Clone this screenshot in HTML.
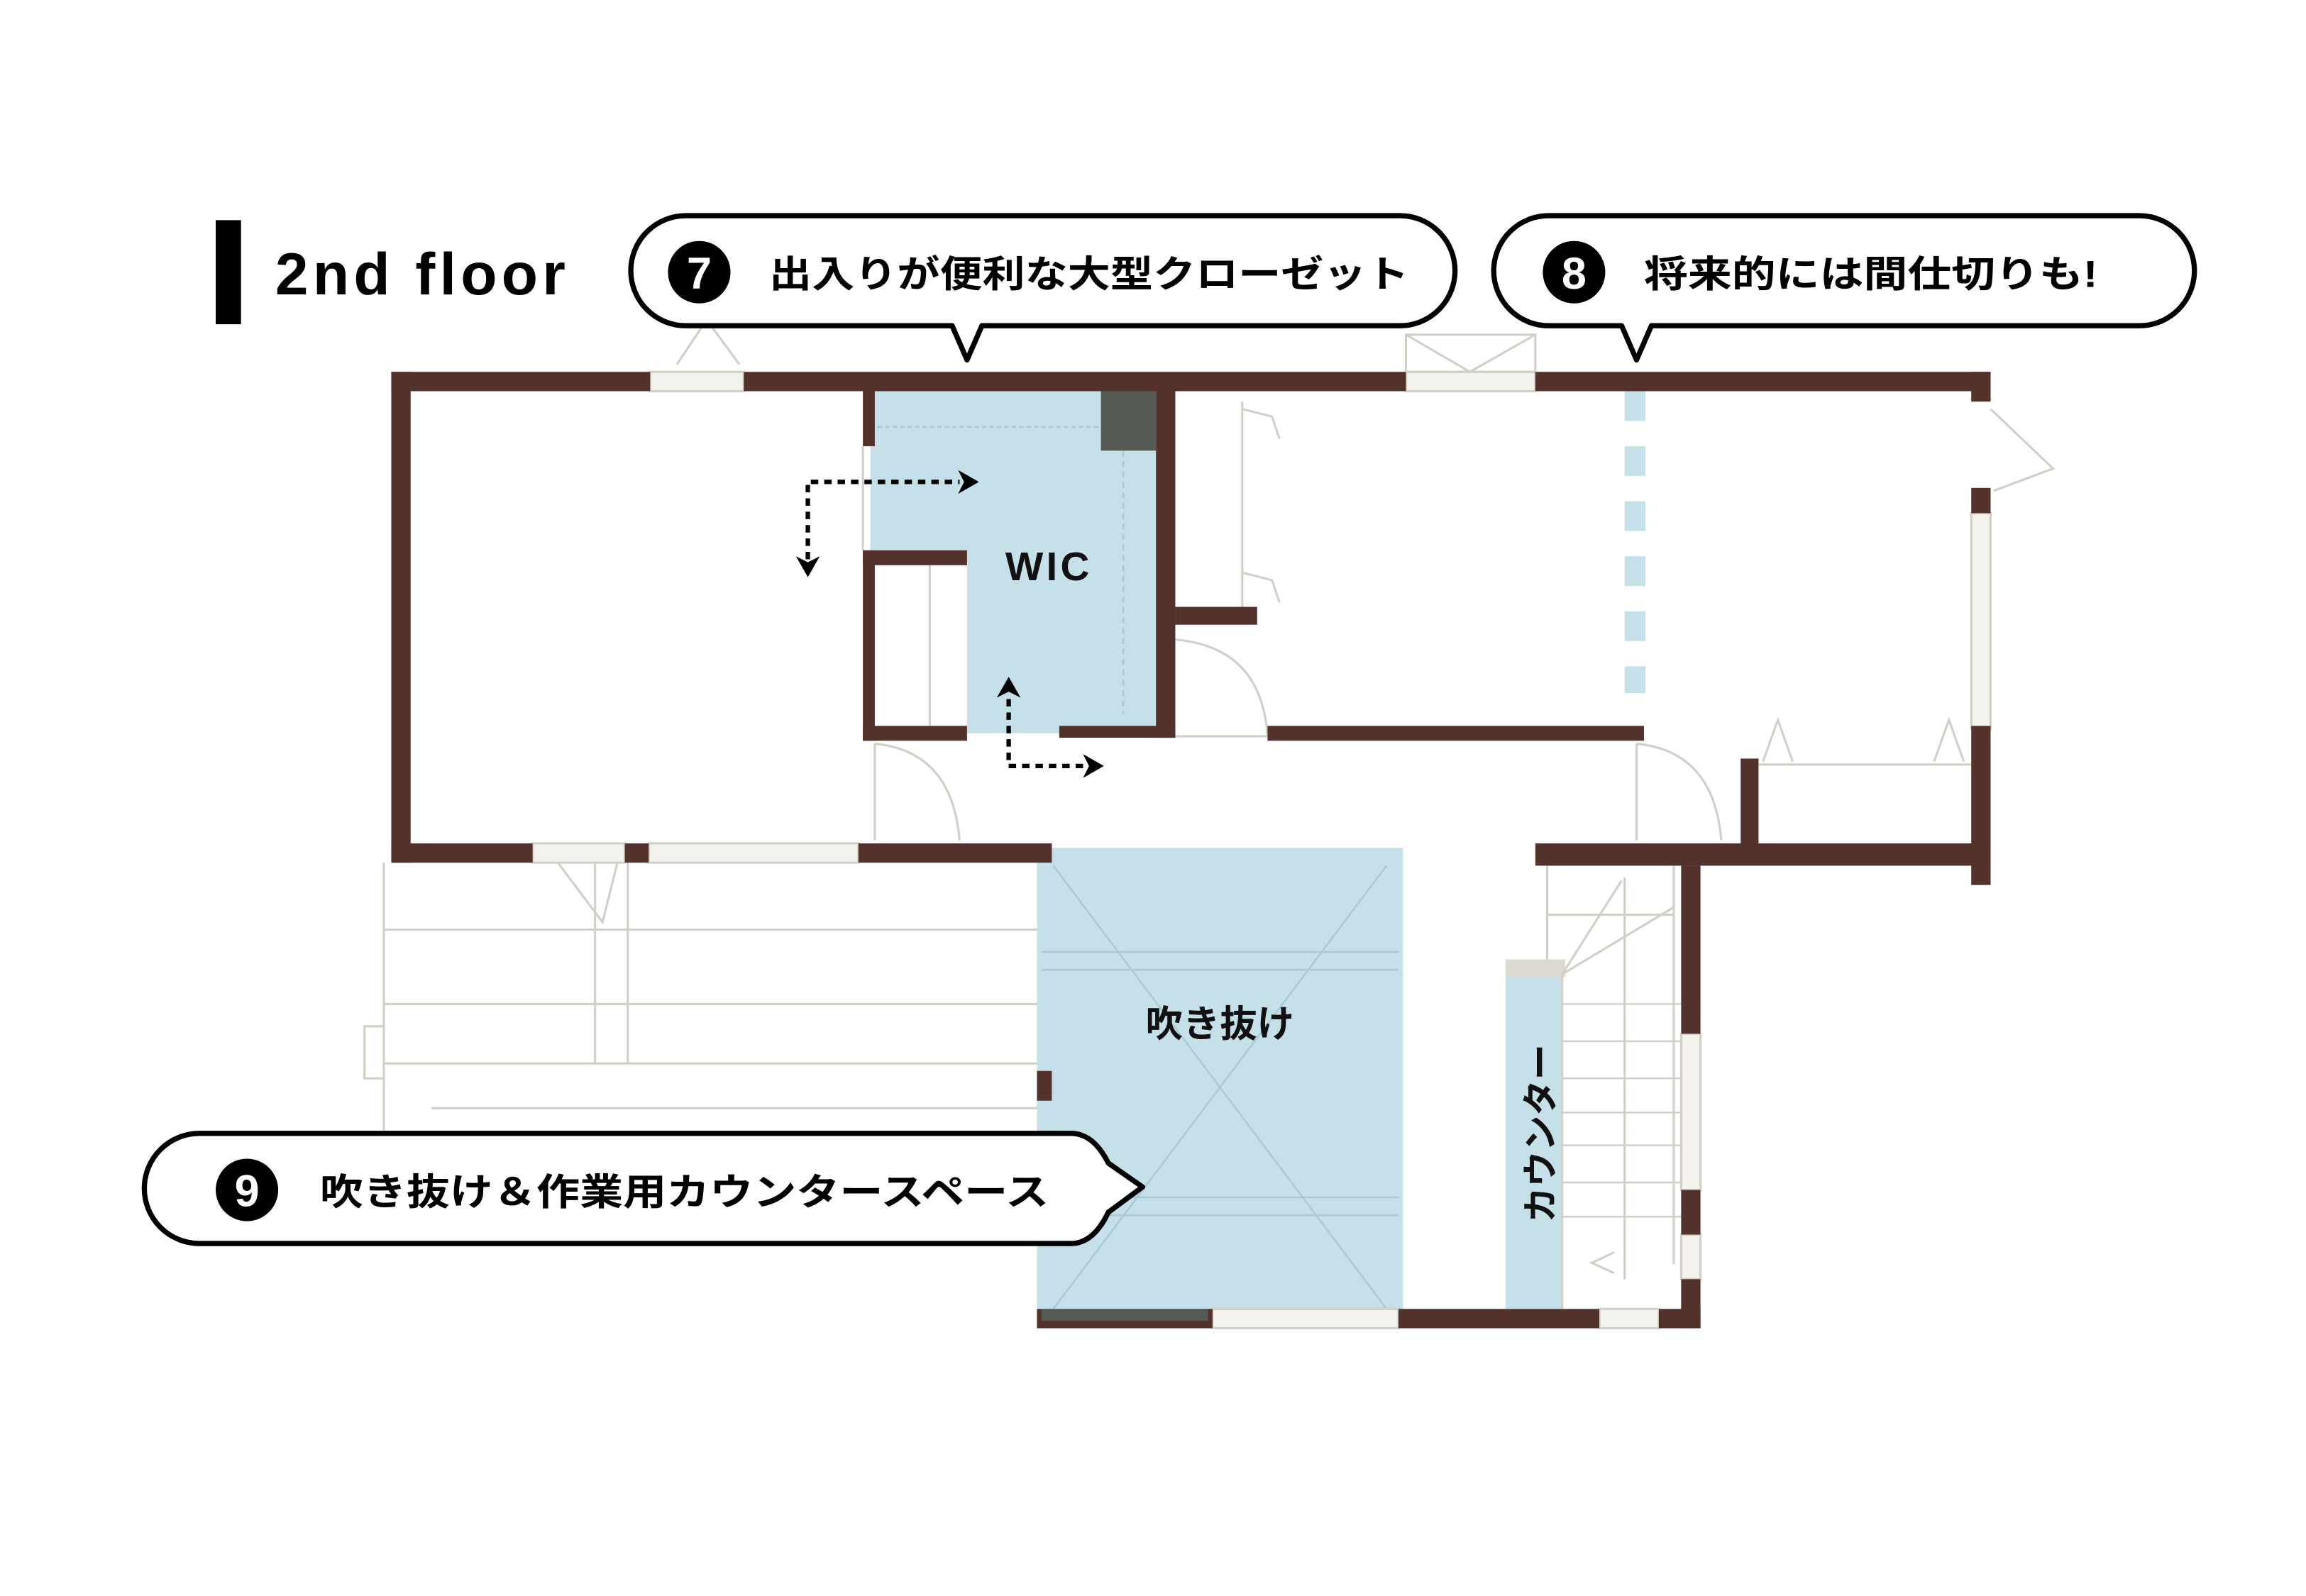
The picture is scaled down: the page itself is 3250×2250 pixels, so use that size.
<!DOCTYPE html>
<html><head><meta charset="utf-8"><style>
html,body{margin:0;padding:0;background:#fff;}
svg{display:block;}
text{font-family:"Liberation Sans","Noto Sans CJK JP",sans-serif;font-weight:bold;}
</style></head><body>
<svg width="3250" height="2250" viewBox="0 0 1550 1073" preserveAspectRatio="none" xmlns="http://www.w3.org/2000/svg">
<rect width="1550" height="1073" fill="#fff"/>
<!-- title -->
<rect x="145" y="148" width="17" height="70" fill="#000"/>
<text x="185" y="198" font-size="40" letter-spacing="3" fill="#000">2nd floor</text>

<!-- blue areas -->
<path d="M585 263 H777 V493 H650 V375 H585 Z" fill="#c5e0e9"/>
<rect x="697" y="570" width="246" height="320" fill="#c5e0e9"/>
<rect x="1012" y="655" width="38" height="225" fill="#c5e0e9"/>
<rect x="1012" y="645" width="40" height="12" fill="#dcdad0"/>
<g stroke="#a9c9d3" stroke-width="1.2" fill="none">
<line x1="708" y1="582" x2="932" y2="880"/><line x1="932" y1="582" x2="708" y2="880"/>
<line x1="700" y1="640" x2="940" y2="640"/><line x1="700" y1="652" x2="940" y2="652"/>
<line x1="700" y1="805" x2="940" y2="805"/><line x1="700" y1="817" x2="940" y2="817"/>
<line x1="590" y1="287" x2="740" y2="287" stroke-dasharray="3 2"/>
<line x1="755" y1="303" x2="755" y2="480" stroke-dasharray="4 3"/>
</g>
<rect x="740" y="263" width="37" height="40" fill="#555a55"/>
<!-- dashed blue line -->
<g fill="#c5e0e9">
<rect x="1092" y="263" width="14" height="20"/><rect x="1092" y="300" width="14" height="20"/>
<rect x="1092" y="337" width="14" height="20"/><rect x="1092" y="374" width="14" height="20"/>
<rect x="1092" y="411" width="14" height="20"/><rect x="1092" y="448" width="14" height="18"/>
</g>
<!-- light fixtures / windows / stairs -->
<g stroke="#d2d0c6" stroke-width="1.5" fill="none">
<rect x="437" y="250" width="63" height="13" fill="#f3f2ec"/>
<rect x="945" y="250" width="87" height="13" fill="#f3f2ec"/>
<rect x="945" y="225" width="87" height="25"/>
<line x1="945" y1="225" x2="988" y2="250"/><line x1="1032" y1="225" x2="988" y2="250"/>
<line x1="455" y1="245" x2="475" y2="215"/><line x1="475" y1="215" x2="497" y2="245"/>
<rect x="1325" y="345" width="13" height="145" fill="#f3f2ec"/>
<path d="M1338 275 L1380 315 L1340 330"/>
<line x1="835" y1="270" x2="835" y2="408"/>
<path d="M835 275 l20 5 l5 15 M835 385 l20 5 l5 15"/>
<path d="M790 430 Q848 435 852 495"/><line x1="790" y1="495" x2="852" y2="495"/>
<path d="M588 500 Q640 505 645 565"/><line x1="588" y1="500" x2="588" y2="565"/>
<path d="M1100 500 Q1152 505 1157 565"/><line x1="1100" y1="500" x2="1100" y2="565"/>
<line x1="1182" y1="514" x2="1325" y2="514"/>
<path d="M1185 512 l10 -28 l10 28 M1300 512 l10 -28 l10 28"/>
<rect x="358" y="567" width="62" height="13" fill="#f3f2ec"/>
<rect x="436" y="567" width="141" height="13" fill="#f3f2ec"/>
<path d="M375 580 L405 620 L415 580"/>
<line x1="258" y1="580" x2="258" y2="760"/>
<line x1="400" y1="580" x2="400" y2="715"/><line x1="422" y1="580" x2="422" y2="715"/>
<line x1="258" y1="625" x2="697" y2="625"/><line x1="258" y1="675" x2="697" y2="675"/>
<line x1="258" y1="715" x2="697" y2="715"/><line x1="290" y1="745" x2="697" y2="745"/>
<path d="M258 690 H245 V725 H258"/>
<line x1="1050" y1="655" x2="1050" y2="880"/>
<line x1="1092" y1="590" x2="1092" y2="860"/>
<line x1="1125" y1="582" x2="1125" y2="850"/>
<line x1="1040" y1="582" x2="1040" y2="645"/>
<line x1="1040" y1="615" x2="1125" y2="615"/>
<g stroke-width="1.2">
<line x1="1050" y1="675" x2="1130" y2="675"/><line x1="1050" y1="700" x2="1130" y2="700"/>
<line x1="1050" y1="725" x2="1130" y2="725"/><line x1="1050" y1="748" x2="1130" y2="748"/>
<line x1="1050" y1="770" x2="1130" y2="770"/><line x1="1050" y1="795" x2="1130" y2="795"/>
<line x1="1050" y1="818" x2="1130" y2="818"/>
</g>
<path d="M1050 655 L1125 610 M1050 655 L1090 592"/>
<path d="M1085 842 l-15 7 l15 7"/>
<rect x="1130" y="695" width="13" height="105" fill="#f3f2ec"/>
<rect x="1130" y="830" width="13" height="30" fill="#f3f2ec"/>
<rect x="815" y="880" width="125" height="13" fill="#f3f2ec"/>
<rect x="1075" y="880" width="40" height="13" fill="#f3f2ec"/>
<line x1="580" y1="300" x2="580" y2="370"/>
<line x1="625" y1="380" x2="625" y2="488"/>
</g>
<!-- walls -->
<g fill="#52322a">
<rect x="263" y="250" width="174" height="13"/>
<rect x="500" y="250" width="445" height="13"/>
<rect x="1032" y="250" width="306" height="13"/>
<rect x="263" y="250" width="13" height="330"/>
<rect x="1325" y="250" width="13" height="20"/>
<rect x="1325" y="328" width="13" height="17"/>
<rect x="1325" y="488" width="13" height="107"/>
<rect x="263" y="567" width="95" height="13"/>
<rect x="420" y="567" width="16" height="13"/>
<rect x="577" y="567" width="130" height="13"/>
<rect x="580" y="263" width="8" height="37"/>
<rect x="580" y="370" width="70" height="10"/>
<rect x="580" y="370" width="8" height="128"/>
<rect x="580" y="488" width="70" height="10"/>
<rect x="712" y="488" width="78" height="8"/>
<rect x="777" y="263" width="13" height="233"/>
<rect x="790" y="408" width="55" height="12"/>
<rect x="852" y="488" width="253" height="10"/>
<rect x="1170" y="510" width="12" height="60"/>
<rect x="1032" y="567" width="306" height="15"/>
<rect x="1130" y="582" width="13" height="113"/>
<rect x="1130" y="800" width="13" height="30"/>
<rect x="1130" y="860" width="13" height="33"/>
<rect x="697" y="720" width="10" height="20"/>
<rect x="697" y="880" width="118" height="13"/>
<rect x="940" y="880" width="135" height="13"/>
<rect x="1115" y="880" width="28" height="13"/>
</g>
<rect x="700" y="880" width="112" height="8" fill="#555a55"/>

<!-- dotted arrows -->
<g stroke="#000" stroke-width="3" fill="none" stroke-dasharray="5 4">
<path d="M543 385 V324 H645"/>
<path d="M678 470 V515 H728"/>
</g>
<g fill="#000">
<path d="M658 324 l-14 -8 l4 8 l-4 8 Z"/>
<path d="M543 388 l-8 -14 l8 4 l8 -4 Z"/>
<path d="M678 455 l-8 14 l8 -4 l8 4 Z"/>
<path d="M742 515 l-14 -8 l4 8 l-4 8 Z"/>
</g>

<!-- room labels -->
<text x="705" y="390" font-size="27" text-anchor="middle" letter-spacing="2" fill="#111">WIC</text>
<text x="820" y="697" font-size="25" text-anchor="middle" fill="#111">吹き抜け</text>
<text transform="translate(1044,762) rotate(-90)" font-size="24" text-anchor="middle" fill="#111">カウンター</text>

<!-- bubbles -->
<g fill="#fff" stroke="#000" stroke-width="3.5" stroke-linejoin="round">
<path d="M461 145 H941 A37 37 0 0 1 978 182 A37 37 0 0 1 941 219 H660 L650 242 L640 219 H461 A37 37 0 0 1 424 182 A37 37 0 0 1 461 145 Z"/>
<path d="M1041 145 H1438 A37 37 0 0 1 1475 182 A37 37 0 0 1 1438 219 H1110 L1100 242 L1090 219 H1041 A37 37 0 0 1 1004 182 A37 37 0 0 1 1041 145 Z"/>
<path d="M134 762 H720 Q735 762 745 782 L768 798 L745 815 Q735 836 720 836 H134 A37 37 0 0 1 97 799 A37 37 0 0 1 134 762 Z"/>
</g>
<circle cx="470" cy="183" r="21" fill="#000"/>
<circle cx="1058" cy="183" r="21" fill="#000"/>
<circle cx="166" cy="800" r="21" fill="#000"/>
<text x="470" y="194" font-size="30" text-anchor="middle" fill="#fff">7</text>
<text x="1058" y="194" font-size="30" text-anchor="middle" fill="#fff">8</text>
<text x="166" y="811" font-size="30" text-anchor="middle" fill="#fff">9</text>
<text x="517" y="193" font-size="25" fill="#000" textLength="430" lengthAdjust="spacingAndGlyphs">出入りが便利な大型クローゼット</text>
<text x="1105" y="193" font-size="25" fill="#000" textLength="305" lengthAdjust="spacingAndGlyphs">将来的には間仕切りも!</text>
<text x="215" y="810" font-size="25" fill="#000" textLength="490" lengthAdjust="spacingAndGlyphs">吹き抜け＆作業用カウンタースペース</text>
</svg>
</body></html>
